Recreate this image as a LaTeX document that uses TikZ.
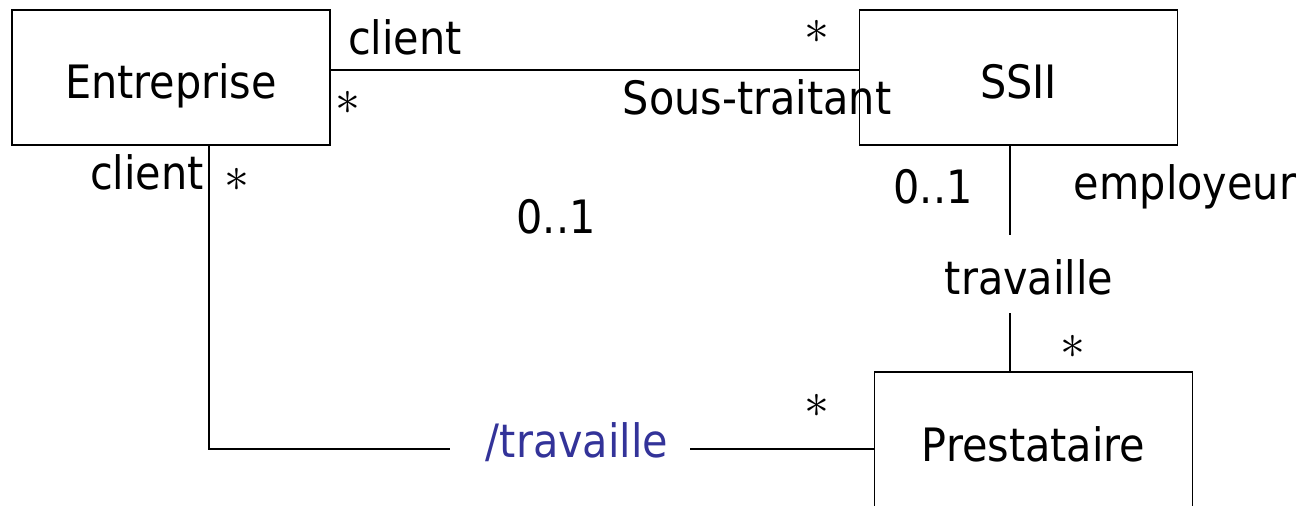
\documentclass[tikz,border=0pt]{standalone}
\usepackage{fontspec}
\setmainfont{DejaVu Sans Condensed}
\definecolor{derived}{RGB}{51,51,153}
\begin{document}
\begin{tikzpicture}[x=0.5pt,y=-0.5pt,
  every node/.style={font=\fontsize{23}{27}\selectfont, inner sep=0pt},
  classbox/.style={draw, line width=0.9pt, minimum width=159pt, minimum height=67.5pt,
    text height=21pt, text depth=0pt},
  assoc/.style={line width=0.9pt}]
\useasboundingbox (0,0) rectangle (1301,505);
\clip (0,0) rectangle (1301,505);

% classes
\node[classbox] (ent) at (171,77.5) {Entreprise};
\node[classbox] (ssii) at (1018.5,77.5) {SSII};
\node[classbox, minimum height=71pt, text height=18pt] (pre) at (1033.5,443) {Prestataire};

% association Entreprise -- SSII
\draw[assoc] (ent.east |- 0,70) -- (ssii.west |- 0,70);
\node (rcl) at (405,37) {client};
\node (m1) at (348,103) {$\ast$};
\node (m2) at (817,32) {$\ast$};
\node (rst) at (757,97) {Sous-traitant};

% association SSII -- Prestataire
\coordinate (g1) at (1010,235);
\coordinate (g2) at (1010,313);
\node (trav) at (1029,277) {travaille};
\draw[assoc] (ssii.south -| g1) -- (g1);
\draw[assoc] (g2) -- (pre.north -| g2);
\node (m3) at (933,187) {0..1};
\node (remp) at (1185,187) {employeur};
\node (m4) at (1073,347) {$\ast$};

% derived association Entreprise -- Prestataire
\coordinate (c1) at (209,449);
\coordinate (g3) at (450,449);
\coordinate (g4) at (690,449);
\node[text=derived] (dtrav) at (577,442) {/travaille};
\draw[assoc] (ent.south -| c1) -- (c1) -- (g3);
\draw[assoc] (g4) -- (pre.west |- g4);
\node (lcl) at (147,172) {client};
\node (m5) at (237,180) {$\ast$};
\node (m6) at (556,217) {0..1};
\node (m7) at (817,406) {$\ast$};
\end{tikzpicture}
\end{document}
